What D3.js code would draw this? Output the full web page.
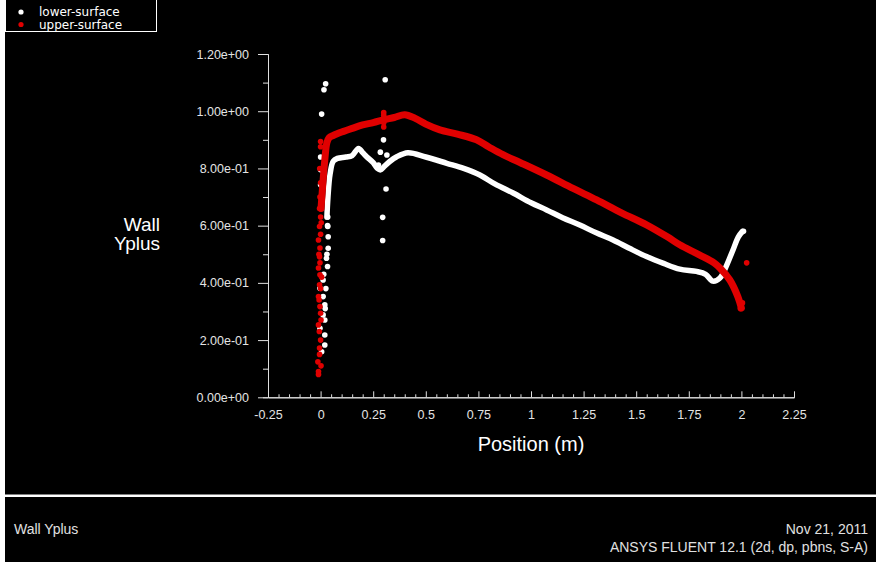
<!DOCTYPE html>
<html>
<head>
<meta charset="utf-8">
<script src="https://cdn.jsdelivr.net/npm/d3@7"></script>
<style>
  body { margin: 0; background: #fff; }
  svg { display: block; }
  .tick text { fill: #e4e4e4; font-family: "Liberation Sans", Arial, sans-serif; font-size: 12.5px; }
  .tick line, .domain { stroke: #e0e0e0; }
</style>
</head>
<body>
<script>
// tick values + labels
var xTicks = [-0.25, 0, 0.25, 0.5, 0.75, 1, 1.25, 1.5, 1.75, 2, 2.25];
var xTickLabels = ["-0.25", "0", "0.25", "0.5", "0.75", "1", "1.25", "1.5", "1.75", "2", "2.25"];
var yTicks = [0, 0.2, 0.4, 0.6, 0.8, 1.0, 1.2];
var yTickLabels = ["0.00e+00", "2.00e-01", "4.00e-01", "6.00e-01", "8.00e-01", "1.00e+00", "1.20e+00"];

// lower-surface (white), main trace
var lowerX = [0.03, 0.035, 0.045, 0.06, 0.08, 0.12, 0.15, 0.18, 0.2, 0.22, 0.25, 0.27, 0.285, 0.3, 0.33, 0.36, 0.415, 0.5, 0.6, 0.68, 0.757, 0.83, 0.915, 1.0, 1.074, 1.15, 1.232, 1.31, 1.39, 1.47, 1.549, 1.63, 1.707, 1.787, 1.83, 1.864, 1.898, 1.92, 1.96, 1.985, 2.005];
var lowerY = [0.63, 0.7, 0.78, 0.825, 0.835, 0.84, 0.845, 0.87, 0.855, 0.84, 0.82, 0.8, 0.795, 0.805, 0.825, 0.84, 0.855, 0.84, 0.818, 0.8, 0.777, 0.745, 0.714, 0.68, 0.655, 0.628, 0.602, 0.575, 0.55, 0.52, 0.492, 0.468, 0.448, 0.44, 0.43, 0.406, 0.417, 0.445, 0.515, 0.56, 0.58];
// lower-surface, scattered points (leading edge, x~0.3)
var lowerDotX = [0.024, 0.016, 0.005, 0.0, 0.0, 0.0, 0.034, 0.033, 0.034, 0.036, 0.036, 0.028, 0.033, 0.012, -0.003, 0.012, 0.02, 0.012, -0.003, 0.02, 0.02, 0.005, 0.02, 0.015, 0.025, 0.03, 0.022, 0.307, 0.299, 0.284, 0.315, 0.275, 0.311, 0.295, 0.295, 2.01];
var lowerDotY = [1.096, 1.075, 0.99, 0.84, 0.795, 0.743, 0.63, 0.6, 0.597, 0.561, 0.521, 0.486, 0.457, 0.41, 0.381, 0.352, 0.323, 0.288, 0.241, 0.218, 0.183, 0.159, 0.27, 0.43, 0.38, 0.5, 0.31, 1.11, 0.9, 0.857, 0.847, 0.812, 0.728, 0.629, 0.548, 0.58];

// upper-surface (red), main trace
var upperX = [0.002, 0.01, 0.02, 0.03, 0.04, 0.06, 0.1, 0.15, 0.2, 0.25, 0.3, 0.35, 0.4, 0.45, 0.5, 0.567, 0.65, 0.741, 0.8, 0.867, 0.95, 1.074, 1.2, 1.312, 1.43, 1.549, 1.65, 1.707, 1.8, 1.87, 1.898, 1.945, 1.983, 2.0];
var upperY = [0.66, 0.74, 0.83, 0.89, 0.907, 0.915, 0.927, 0.94, 0.952, 0.96, 0.97, 0.978, 0.988, 0.975, 0.955, 0.935, 0.92, 0.9, 0.875, 0.848, 0.82, 0.777, 0.73, 0.69, 0.645, 0.603, 0.56, 0.533, 0.498, 0.47, 0.452, 0.41, 0.352, 0.312];
var upperDotX = [0.0, 0.0, -0.003, -0.005, 0.0, -0.005, -0.01, -0.003, -0.005, -0.01, -0.003, -0.005, -0.01, -0.003, 0.0, -0.01, -0.005, -0.013, -0.01, -0.01, -0.005, 0.0, 0.002, -0.007, 0.005, -0.003, 0.0, 0.003, -0.008, 0.0, -0.006, 0.002, -0.004, 0.0, 0.3, 0.3, 0.3, 0.3, 2.025, 2.005, 1.995];
var upperDotY = [0.894, 0.876, 0.7, 0.66, 0.63, 0.597, 0.55, 0.522, 0.491, 0.452, 0.428, 0.393, 0.352, 0.317, 0.294, 0.253, 0.172, 0.124, 0.09, 0.08, 0.15, 0.2, 0.27, 0.34, 0.42, 0.47, 0.57, 0.61, 0.5, 0.38, 0.23, 0.11, 0.8, 0.75, 0.945, 0.96, 0.985, 0.995, 0.47, 0.33, 0.31];

var W = 876, H = 562;
var red = "#e00000";

var svg = d3.select("body").append("svg")
    .attr("width", W)
    .attr("height", H);

// panels
svg.append("rect").attr("x", 0).attr("y", 0).attr("width", W).attr("height", H).attr("fill", "#fff");
svg.append("rect").attr("x", 5).attr("y", 0).attr("width", W - 5).attr("height", 494.5).attr("fill", "#000");
svg.append("rect").attr("x", 5).attr("y", 497).attr("width", W - 5).attr("height", H - 497).attr("fill", "#000");

var x = d3.scaleLinear().domain([-0.25, 2.25]).range([268, 794]);
var y = d3.scaleLinear().domain([0, 1.2]).range([397.3, 54]);

// y axis, major + minor
var yMinor = [0.1, 0.3, 0.5, 0.7, 0.9, 1.1];
svg.append("g")
    .attr("transform", "translate(268,0)")
    .call(d3.axisLeft(y).tickValues(yMinor).tickSize(5).tickFormat(""));
svg.append("g")
    .attr("transform", "translate(268,0)")
    .call(d3.axisLeft(y).tickValues(yTicks).tickSize(10).tickSizeOuter(0).tickPadding(9)
        .tickFormat(function(d, i){ return yTickLabels[i]; }));

// x axis, ticks pointing up
var xMinor = [];
for (var k = -5; k <= 45; k++) { if (k % 5 != 0) xMinor.push(k * 0.05); }
svg.append("g")
    .attr("transform", "translate(0,397.3)")
    .call(d3.axisBottom(x).tickValues(xMinor).tickSize(-3).tickFormat(""));
svg.append("g")
    .attr("transform", "translate(0,397.3)")
    .call(d3.axisBottom(x).tickValues(xTicks).tickSize(-6).tickSizeOuter(0).tickPadding(13)
        .tickFormat(function(d, i){ return xTickLabels[i]; }));

// axis titles
var titleFont = "19px 'Liberation Sans', Arial, sans-serif";
svg.append("text")
    .attr("x", 160).attr("y", 231)
    .attr("text-anchor", "end")
    .attr("fill", "#fff")
    .style("font", titleFont)
    .text("Wall");
svg.append("text")
    .attr("x", 160).attr("y", 250)
    .attr("text-anchor", "end")
    .attr("fill", "#fff")
    .style("font", titleFont)
    .text("Yplus");
svg.append("text")
    .attr("x", 531).attr("y", 451)
    .attr("text-anchor", "middle")
    .attr("fill", "#fff")
    .style("font", "20px 'Liberation Sans', Arial, sans-serif")
    .text("Position (m)");

// series
var line = d3.line()
    .x(function(d){ return x(d[0]); })
    .y(function(d){ return y(d[1]); })
    .curve(d3.curveCatmullRom);

function draw(xs, ys, dx, dy, col, sw) {
    svg.append("path")
        .datum(d3.zip(xs, ys))
        .attr("d", line)
        .attr("fill", "none")
        .attr("stroke", col)
        .attr("stroke-width", sw)
        .attr("stroke-linecap", "round")
        .attr("stroke-linejoin", "round");
    svg.append("g").selectAll("circle")
        .data(d3.zip(dx, dy))
        .enter().append("circle")
        .attr("cx", function(d){ return x(d[0]); })
        .attr("cy", function(d){ return y(d[1]); })
        .attr("r", 2.8)
        .attr("fill", col);
}
draw(lowerX, lowerY, lowerDotX, lowerDotY, "#fff", 5.5);
draw(upperX, upperY, upperDotX, upperDotY, red, 7);

// legend
svg.append("rect")
    .attr("x", 5.5).attr("y", -0.5)
    .attr("width", 151).attr("height", 32)
    .attr("fill", "none").attr("stroke", "#fff");
var legend = [["lower-surface", "#fff"], ["upper-surface", red]];
legend.forEach(function(l, i){
    svg.append("circle").attr("cx", 21).attr("cy", 12 + i * 12.5).attr("r", 2.6).attr("fill", l[1]);
    svg.append("text")
        .attr("x", 39).attr("y", 16 + i * 12.5)
        .attr("fill", "#fff")
        .style("font", "12px 'DejaVu Sans', sans-serif")
        .text(l[0]);
});

// footer
var footFont = "14px 'Liberation Sans', Arial, sans-serif";
svg.append("text")
    .attr("x", 14).attr("y", 534)
    .attr("fill", "#e0e0e0")
    .style("font", footFont)
    .text("Wall Yplus");
svg.append("text")
    .attr("x", 868).attr("y", 534)
    .attr("text-anchor", "end")
    .attr("fill", "#e0e0e0")
    .style("font", footFont)
    .text("Nov 21, 2011");
svg.append("text")
    .attr("x", 868).attr("y", 552)
    .attr("text-anchor", "end")
    .attr("fill", "#e0e0e0")
    .style("font", footFont)
    .text("ANSYS FLUENT 12.1 (2d, dp, pbns, S-A)");
</script>
</body>
</html>
